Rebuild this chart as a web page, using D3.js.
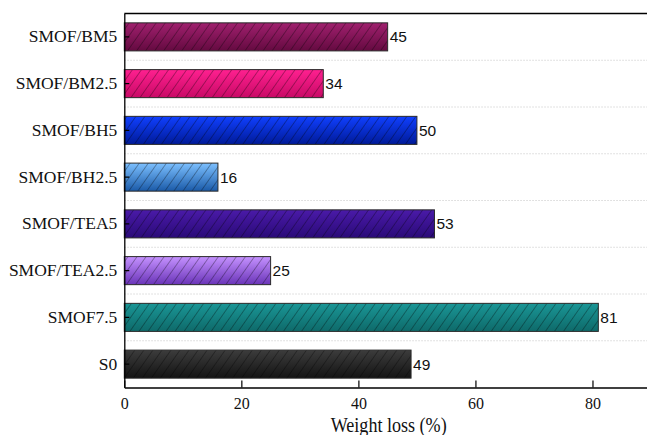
<!DOCTYPE html>
<html>
<head>
<meta charset="utf-8">
<script src="https://cdn.jsdelivr.net/npm/d3@7"></script>
<style>
  html, body { margin: 0; padding: 0; background: #ffffff; }
  svg { display: block; }
</style>
</head>
<body>
<script>
// Data (bottom to top order as in chart)
const categories = ["S0", "SMOF7.5", "SMOF/TEA2.5", "SMOF/TEA5", "SMOF/BH2.5", "SMOF/BH5", "SMOF/BM2.5", "SMOF/BM5"];
const values = [49, 81, 25, 53, 16, 50, 34, 45];
const topColors = ["#3c3c3c", "#1a9696", "#c592ff", "#4a1aa8", "#7cc0ff", "#1040ff", "#ff2090", "#a0206e"];
const bottomColors = ["#141414", "#0e6a6a", "#6a34b8", "#2a0a78", "#1a5aa8", "#001a98", "#c80a66", "#640a40"];
const xTicks = [0, 20, 40, 60, 80];
const xTitle = "Weight loss (%)";

const W = 647, H = 435;
const margin = { left: 124.3, top: 13.5, bottom: 387.5, right: 651 };

const svg = d3.select("body").append("svg").attr("width", W).attr("height", H);
const defs = svg.append("defs");

const x = d3.scaleLinear().domain([0, 90]).range([margin.left, margin.right]);
const y = d3.scaleBand().domain(categories.slice().reverse())
  .range([margin.top, margin.bottom]).paddingInner(0.4).paddingOuter(0.2);

// gradients
categories.forEach((c, i) => {
  const g = defs.append("linearGradient").attr("id", "grad" + i)
    .attr("x1", 0).attr("y1", 0).attr("x2", 0).attr("y2", 1);
  g.append("stop").attr("offset", "0%").attr("stop-color", topColors[i]);
  g.append("stop").attr("offset", "100%").attr("stop-color", bottomColors[i]);
});
// hatch pattern
const pat = defs.append("pattern").attr("id", "hatch").attr("patternUnits", "userSpaceOnUse")
  .attr("width", 7.4).attr("height", 7.4).attr("patternTransform", "rotate(35)");
pat.append("line").attr("x1", 0).attr("y1", -1).attr("x2", 0).attr("y2", 9)
  .attr("stroke", "rgba(0,0,0,0.6)").attr("stroke-width", 1);

// gridlines between bars
const step = y.step();
const gridY = categories.slice().reverse().slice(1).map(c => y(c) - step * 0.2);
svg.append("g").selectAll("line").data(gridY).join("line")
  .attr("x1", margin.left).attr("x2", W)
  .attr("y1", d => d).attr("y2", d => d)
  .attr("stroke", "#d8d8d8").attr("stroke-width", 1).attr("stroke-dasharray", "1.5,1.5");

// bars
const data = categories.map((c, i) => ({ c, v: values[i], i }));
const bars = svg.append("g");
bars.selectAll("rect.fill").data(data).join("rect").attr("class", "fill")
  .attr("x", x(0)).attr("y", d => y(d.c)).attr("width", d => x(d.v) - x(0)).attr("height", y.bandwidth())
  .attr("fill", d => "url(#grad" + d.i + ")");
bars.selectAll("rect.hatch").data(data).join("rect").attr("class", "hatch")
  .attr("x", x(0)).attr("y", d => y(d.c)).attr("width", d => x(d.v) - x(0)).attr("height", y.bandwidth())
  .attr("fill", "url(#hatch)").attr("stroke", "#2a2a2a").attr("stroke-width", 1);

// value labels
svg.append("g").selectAll("text").data(data).join("text")
  .attr("x", d => x(d.v) + 2).attr("y", d => y(d.c) + y.bandwidth() / 2)
  .attr("dy", "0.36em")
  .attr("font-family", "'Liberation Sans', Arial, sans-serif").attr("font-size", 15.5)
  .attr("fill", "#111").text(d => d.v);

// axes
const xAxis = d3.axisBottom(x).tickValues(xTicks).tickSizeInner(-7).tickSizeOuter(0).tickPadding(10);
const gx = svg.append("g").attr("transform", `translate(0,${margin.bottom})`).call(xAxis);
gx.select(".domain").attr("stroke", "#000").attr("stroke-width", 1.3);
gx.selectAll(".tick line").attr("stroke", "#000").attr("stroke-width", 1.2);
gx.selectAll(".tick text").attr("font-family", "'Liberation Serif', 'Times New Roman', serif")
  .attr("font-size", 16).attr("fill", "#111");

const yAxis = d3.axisLeft(y).tickSizeInner(-5).tickSizeOuter(0).tickPadding(7);
const gy = svg.append("g").attr("transform", `translate(${margin.left},0)`).call(yAxis);
gy.select(".domain").attr("stroke", "#000").attr("stroke-width", 1.3);
gy.selectAll(".tick line").attr("stroke", "#000").attr("stroke-width", 1.2);
gy.selectAll(".tick text").attr("font-family", "'Liberation Serif', 'Times New Roman', serif")
  .attr("font-size", 17.5).attr("fill", "#111");

// top frame line
svg.append("line").attr("x1", margin.left).attr("x2", W).attr("y1", margin.top).attr("y2", margin.top)
  .attr("stroke", "#000").attr("stroke-width", 1.3);

// axis title
svg.append("text").attr("x", 388.7).attr("y", 431.5)
  .attr("text-anchor", "middle")
  .attr("font-family", "'Liberation Serif', 'Times New Roman', serif").attr("font-size", 21)
  .attr("textLength", 116).attr("lengthAdjust", "spacingAndGlyphs")
  .attr("fill", "#111").text(xTitle);
</script>
</body>
</html>
